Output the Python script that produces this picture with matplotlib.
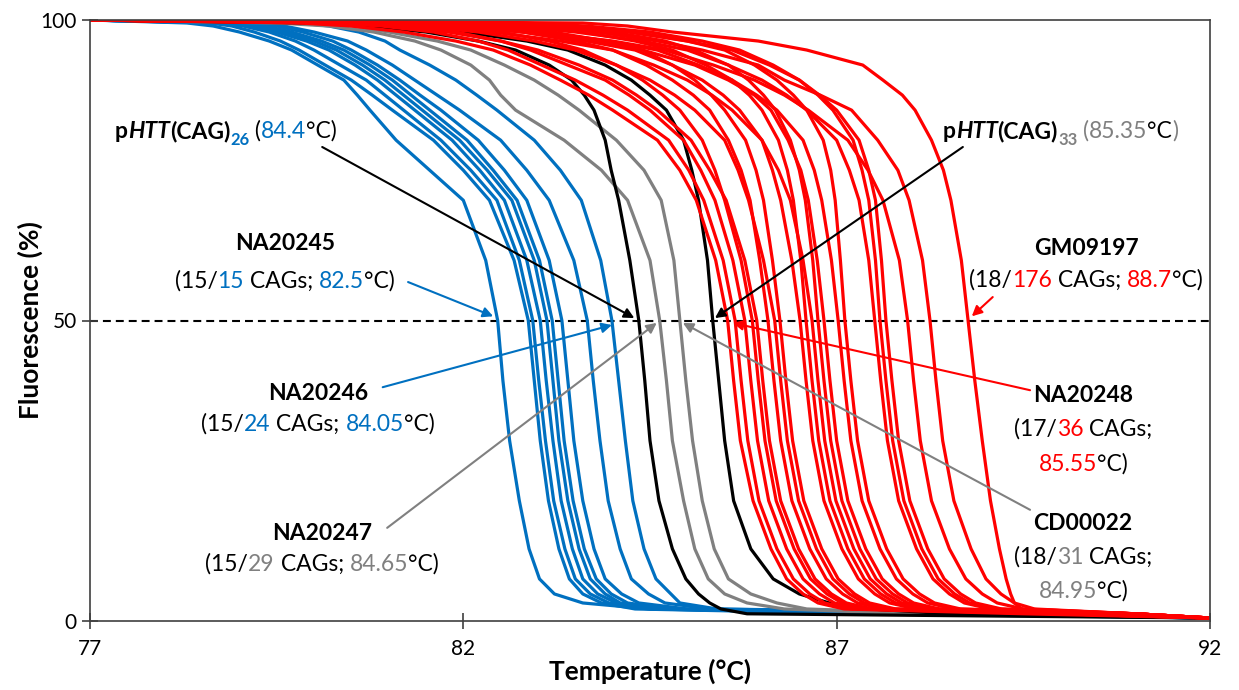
import matplotlib
matplotlib.use('Agg')
import matplotlib.pyplot as plt
from matplotlib.transforms import offset_copy

plt.rcParams['font.family'] = ['Lato', 'DejaVu Sans']

BLUE = '#0070C0'
RED = '#FF0000'
GREY = '#808080'
BLACK = '#000000'

# fluorescence levels (%) shared by all melt curves
levels = [100, 99.5, 99, 98, 96.5, 95, 92.5, 90, 87.5, 85, 80, 75, 70, 60, 50,
          40, 30, 20, 12, 7, 4.5, 3, 2, 1.2, 0.5]

# temperature (C) at which each curve reaches the level above
blue_curves = [
    [77, 78.3, 78.65, 79.0, 79.4, 79.7, 80.05, 80.4, 80.58, 80.75, 81.1, 81.55, 82.0, 82.3, 82.46, 82.53, 82.62, 82.75, 82.88, 83.02, 83.22, 83.6, 84.5, 88.5, 92],
    [77, 78.6, 78.9, 79.2, 79.55, 79.8, 80.15, 80.5, 80.78, 81.05, 81.6, 82.0, 82.35, 82.68, 82.87, 82.95, 83.03, 83.14, 83.28, 83.42, 83.6, 83.85, 84.3, 87.5, 92],
    [77, 78.7, 79.05, 79.4, 79.75, 80.0, 80.35, 80.7, 80.95, 81.2, 81.7, 82.1, 82.45, 82.75, 82.93, 83.01, 83.1, 83.21, 83.36, 83.5, 83.7, 83.95, 84.5, 88.0, 92],
    [77, 78.8, 79.15, 79.5, 79.9, 80.2, 80.55, 80.85, 81.1, 81.35, 81.85, 82.22, 82.55, 82.85, 83.03, 83.11, 83.2, 83.31, 83.46, 83.6, 83.8, 84.05, 84.6, 88.5, 92],
    [77, 78.9, 79.25, 79.6, 80.0, 80.3, 80.65, 80.95, 81.2, 81.45, 81.95, 82.32, 82.65, 82.95, 83.12, 83.2, 83.28, 83.4, 83.55, 83.7, 83.9, 84.1, 84.7, 89.0, 92],
    [77, 79.0, 79.35, 79.7, 80.1, 80.4, 80.75, 81.05, 81.3, 81.55, 82.05, 82.4, 82.72, 83.02, 83.19, 83.27, 83.35, 83.47, 83.62, 83.78, 83.98, 84.2, 84.8, 89.0, 92],
    [77, 79.1, 79.5, 79.85, 80.25, 80.5, 80.85, 81.15, 81.42, 81.7, 82.2, 82.55, 82.85, 83.15, 83.32, 83.4, 83.48, 83.6, 83.75, 83.9, 84.12, 84.35, 85.0, 89.5, 92],
    [77, 79.2, 79.6, 80.0, 80.45, 80.7, 81.05, 81.35, 81.65, 81.95, 82.5, 82.85, 83.15, 83.48, 83.66, 83.74, 83.83, 83.94, 84.1, 84.25, 84.48, 84.7, 85.3, 89.5, 92],
    [77, 79.8, 80.2, 80.6, 80.95, 81.15, 81.55, 81.9, 82.18, 82.45, 82.95, 83.3, 83.58, 83.84, 83.99, 84.08, 84.17, 84.27, 84.42, 84.58, 84.78, 84.9, 85.4, 90.0, 92],
]

grey_curves = [
    [77, 79.5, 80.2, 80.8, 81.35, 81.7, 82.1, 82.35, 82.5, 82.7, 83.35, 83.85, 84.2, 84.5, 84.63, 84.72, 84.8, 84.95, 85.1, 85.28, 85.5, 85.8, 86.3, 88.0, 92],
    [77, 80.0, 80.5, 81.0, 81.65, 82.1, 82.55, 82.95, 83.27, 83.55, 84.05, 84.42, 84.65, 84.82, 84.9, 84.98, 85.07, 85.2, 85.36, 85.55, 85.85, 86.2, 86.6, 88.5, 92],
]

black_curves = [
    [77, 80.0, 80.7, 81.5, 82.2, 82.7, 83.15, 83.45, 83.62, 83.75, 83.9, 83.98, 84.08, 84.23, 84.35, 84.43, 84.5, 84.62, 84.8, 84.98, 85.15, 85.3, 85.45, 85.8, 92],
    [77, 80.5, 81.3, 82.0, 82.85, 83.4, 83.9, 84.25, 84.5, 84.72, 84.95, 85.06, 85.15, 85.27, 85.34, 85.42, 85.5, 85.62, 85.85, 86.15, 86.5, 86.9, 87.45, 88.5, 92],
]

red_curves = [
    [77, 79.8, 80.5, 81.2, 81.9, 82.4, 82.9, 83.3, 83.68, 84.0, 84.6, 84.9, 85.12, 85.38, 85.54, 85.62, 85.71, 85.88, 86.12, 86.33, 86.55, 86.75, 87.1, 89.5, 92],
    [77, 80.2, 80.9, 81.6, 82.2, 82.6, 83.05, 83.5, 83.87, 84.2, 84.75, 85.02, 85.22, 85.48, 85.64, 85.72, 85.81, 85.96, 86.2, 86.42, 86.64, 86.84, 87.2, 90.0, 92],
    [77, 80.5, 81.2, 81.9, 82.5, 82.9, 83.4, 83.9, 84.22, 84.5, 84.95, 85.18, 85.37, 85.61, 85.77, 85.85, 85.94, 86.09, 86.33, 86.55, 86.77, 86.97, 87.32, 90.0, 92],
    [77, 81.0, 81.75, 82.5, 83.15, 83.6, 84.05, 84.4, 84.67, 84.9, 85.2, 85.37, 85.5, 85.72, 85.87, 85.95, 86.04, 86.19, 86.43, 86.65, 86.87, 87.07, 87.42, 90.0, 92],
    [77, 80.4, 81.1, 81.8, 82.5, 83.0, 83.55, 84.0, 84.32, 84.6, 85.05, 85.3, 85.52, 85.77, 85.93, 86.01, 86.1, 86.25, 86.49, 86.71, 86.93, 87.13, 87.48, 90.5, 92],
    [77, 81.2, 82.0, 82.8, 83.5, 84.0, 84.45, 84.8, 85.08, 85.3, 85.55, 85.72, 85.84, 85.97, 86.08, 86.16, 86.25, 86.4, 86.64, 86.86, 87.08, 87.28, 87.63, 90.5, 92],
    [77, 80.6, 81.4, 82.2, 82.95, 83.5, 84.05, 84.5, 84.83, 85.1, 85.5, 85.68, 85.82, 86.02, 86.17, 86.25, 86.34, 86.49, 86.73, 86.95, 87.17, 87.37, 87.72, 90.5, 92],
    [77, 81.5, 82.35, 83.2, 83.9, 84.4, 84.8, 85.1, 85.32, 85.5, 85.78, 85.92, 86.02, 86.14, 86.24, 86.32, 86.41, 86.56, 86.8, 87.02, 87.24, 87.44, 87.79, 90.5, 92],
    [77, 81.0, 81.9, 82.8, 83.65, 84.3, 84.8, 85.2, 85.48, 85.7, 86.0, 86.14, 86.25, 86.4, 86.51, 86.59, 86.68, 86.83, 87.07, 87.29, 87.51, 87.71, 88.06, 90.5, 92],
    [77, 82.0, 82.8, 83.6, 84.3, 84.8, 85.25, 85.6, 85.83, 86.0, 86.22, 86.34, 86.42, 86.52, 86.59, 86.67, 86.76, 86.91, 87.15, 87.37, 87.59, 87.79, 88.14, 90.5, 92],
    [77, 80.8, 81.6, 82.4, 83.3, 84.0, 84.55, 85.0, 85.33, 85.6, 86.0, 86.22, 86.38, 86.55, 86.67, 86.75, 86.84, 86.99, 87.23, 87.45, 87.67, 87.87, 88.22, 91.0, 92],
    [77, 81.5, 82.0, 82.8, 83.7, 84.4, 85.1, 85.55, 85.9, 86.12, 86.35, 86.52, 86.62, 86.74, 86.83, 86.91, 87.0, 87.15, 87.39, 87.61, 87.83, 88.03, 88.38, 91.0, 92],
    [77, 82.2, 83.1, 84.0, 84.7, 85.1, 85.55, 85.82, 86.02, 86.18, 86.38, 86.5, 86.58, 86.68, 86.75, 86.83, 86.92, 87.07, 87.31, 87.53, 87.75, 87.95, 88.3, 91.0, 92],
    [77, 81.3, 82.15, 83.0, 83.95, 84.6, 85.15, 85.6, 85.93, 86.2, 86.55, 86.7, 86.8, 86.93, 87.02, 87.1, 87.19, 87.34, 87.58, 87.8, 88.02, 88.22, 88.57, 91.0, 92],
    [77, 82.5, 83.4, 84.3, 85.0, 85.5, 85.9, 86.2, 86.42, 86.6, 86.82, 86.92, 86.98, 87.05, 87.11, 87.19, 87.28, 87.43, 87.67, 87.89, 88.11, 88.31, 88.66, 91.0, 92],
    [77, 81.8, 82.65, 83.5, 84.4, 85.0, 85.55, 86.0, 86.33, 86.6, 87.0, 87.17, 87.3, 87.43, 87.51, 87.59, 87.68, 87.83, 88.07, 88.29, 88.51, 88.71, 89.06, 91.0, 92],
    [77, 82.8, 83.65, 84.5, 85.2, 85.7, 86.15, 86.5, 86.75, 86.95, 87.22, 87.34, 87.43, 87.52, 87.58, 87.66, 87.75, 87.9, 88.14, 88.36, 88.58, 88.78, 89.13, 91.0, 92],
    [77, 82.3, 83.25, 84.2, 85.0, 85.6, 86.1, 86.5, 86.77, 87.0, 87.3, 87.43, 87.52, 87.6, 87.66, 87.74, 87.83, 87.98, 88.22, 88.44, 88.66, 88.86, 89.21, 91.0, 92],
    [77, 81.5, 82.25, 83.0, 84.0, 84.7, 85.35, 85.9, 86.3, 86.62, 87.15, 87.42, 87.62, 87.84, 87.95, 88.03, 88.12, 88.27, 88.51, 88.73, 88.95, 89.15, 89.5, 91.0, 92],
    [77, 82.0, 82.9, 83.8, 84.6, 85.2, 85.95, 86.3, 86.78, 87.2, 87.55, 87.82, 87.97, 88.15, 88.25, 88.33, 88.42, 88.57, 88.8, 89.0, 89.2, 89.38, 89.65, 91.0, 92],
    [77, 83.6, 84.2, 84.8, 85.95, 86.6, 87.35, 87.62, 87.88, 88.05, 88.27, 88.43, 88.53, 88.67, 88.76, 88.85, 88.95, 89.06, 89.18, 89.27, 89.33, 89.38, 89.48, 91.0, 92],
]

x_ticks = [77, 82, 87, 92]
y_ticks = [0, 50, 100]

fig = plt.figure(figsize=(12.39, 6.90), dpi=100)
ax = fig.add_axes([90/1239, 69/690, 1120/1239, 601/690])

lw = 2.3
for t in blue_curves:
    ax.plot(t, levels, color=BLUE, lw=lw, solid_joinstyle='round')
for t in grey_curves:
    ax.plot(t, levels, color=GREY, lw=lw, solid_joinstyle='round')
for t in black_curves:
    ax.plot(t, levels, color=BLACK, lw=lw, solid_joinstyle='round')
for t in red_curves:
    ax.plot(t, levels, color=RED, lw=lw, solid_joinstyle='round')

ax.axhline(50, color='black', lw=1.5, ls=(0, (3.8, 2.4)), zorder=1)

ax.set_xlim(77, 92)
ax.set_ylim(0, 100)
ax.set_xticks(x_ticks)
ax.set_yticks(y_ticks)
ax.tick_params(direction='inout', length=12, width=1.2, labelsize=15, color='#404040')
ax.tick_params(axis='x', pad=7)
for s in ax.spines.values():
    s.set_color('#404040')
    s.set_linewidth(1.2)

ax.set_xlabel('Temperature (°C)', fontsize=19, fontweight='bold', labelpad=0)
ax.set_ylabel('Fluorescence (%)', fontsize=19, fontweight='bold', labelpad=-2)

renderer = fig.canvas.get_renderer()


def piece_width(s, **kw):
    t1 = fig.text(0, 0, '|' + s + '|', **kw)
    t2 = fig.text(0, 0, '||', **kw)
    w = t1.get_window_extent(renderer).width - t2.get_window_extent(renderer).width
    t1.remove()
    t2.remove()
    return w


def rich(x, y, pieces, size=16.5, center=True):
    # pieces: (text, color, weight, style, subscript)
    props = []
    for s, c, w, st, sub in pieces:
        fs = size * 0.72 if sub else size
        props.append(dict(fontsize=fs, fontweight=w, fontstyle=st))
    widths = [piece_width(p[0], **kw) for p, kw in zip(pieces, props)]
    dx = -sum(widths) / 2 if center else 0
    for (s, c, w, st, sub), kw, wd in zip(pieces, props, widths):
        dy = -size * 0.3 * fig.dpi / 72 if sub else 0
        tr = offset_copy(ax.transData, fig=fig, x=dx, y=dy, units='dots')
        ax.text(x, y, s, color=c, transform=tr, ha='left', va='baseline', zorder=6, **kw)
        dx += wd


def P(s, c=BLACK, w='normal', st='normal', sub=False):
    return (s, c, w, st, sub)


def arrow(start, tip, c):
    ax.annotate('', xy=tip, xytext=start,
                arrowprops=dict(arrowstyle='-|>', color=c, lw=1.5, mutation_scale=15,
                                shrinkA=0, shrinkB=0), zorder=6)


B = 'bold'
# plasmid references
rich(77.335, 80.37, [P('p', w=B), P('HTT', w=B, st='italic'), P('(CAG)', w=B),
                     P('26', BLUE, B, sub=True), P(' ('), P('84.4', BLUE), P('°C)')], center=False)
arrow((80.11, 78.87), (84.29, 50.4), BLACK)

rich(88.42, 80.37, [P('p', w=B), P('HTT', w=B, st='italic'), P('(CAG)', w=B),
                    P('33', GREY, B, sub=True), P(' '), P('(', GREY), P('85.35', GREY),
                    P('°C'), P(')', GREY)], center=False)
arrow((88.69, 78.87), (85.37, 50.4), BLACK)

# cell lines
rich(79.61, 61.73, [P('NA20245', w=B)])
rich(79.61, 55.41, [P('(15/'), P('15', BLUE), P(' CAGs; '), P('82.5', BLUE), P('°C)')])
arrow((81.26, 56.4), (82.40, 50.7), BLUE)

rich(90.34, 60.9, [P('GM09197', w=B)])
rich(90.34, 55.57, [P('(18/'), P('176', RED), P(' CAGs; '), P('88.7', RED), P('°C)')])
arrow((89.09, 53.9), (88.81, 50.7), RED)

rich(80.05, 36.77, [P('NA20246', w=B)])
rich(80.05, 31.61, [P('(15/'), P('24', BLUE), P(' CAGs; '), P('84.05', BLUE), P('°C)')])
arrow((80.92, 38.9), (83.99, 49.25), BLUE)

rich(80.11, 13.48, [P('NA20247', w=B)])
rich(80.11, 8.32, [P('(15/'), P('29', GREY), P(' CAGs; '), P('84.65', GREY), P('°C)')])
arrow((80.98, 15.5), (84.59, 49.6), GREY)

rich(90.30, 36.44, [P('NA20248', w=B)])
rich(90.30, 30.78, [P('(17/'), P('36', RED), P(' CAGs;')])
rich(90.30, 24.96, [P('85.55', RED), P('°C)')])
arrow((89.59, 38.4), (85.61, 49.6), RED)

rich(90.30, 15.14, [P('CD00022', w=B)])
rich(90.30, 9.48, [P('(18/'), P('31', GREY), P(' CAGs;')])
rich(90.30, 3.83, [P('84.95', GREY), P('°C)')])
arrow((89.59, 18.5), (84.94, 49.6), GREY)

fig.savefig('out.png', dpi=100)
